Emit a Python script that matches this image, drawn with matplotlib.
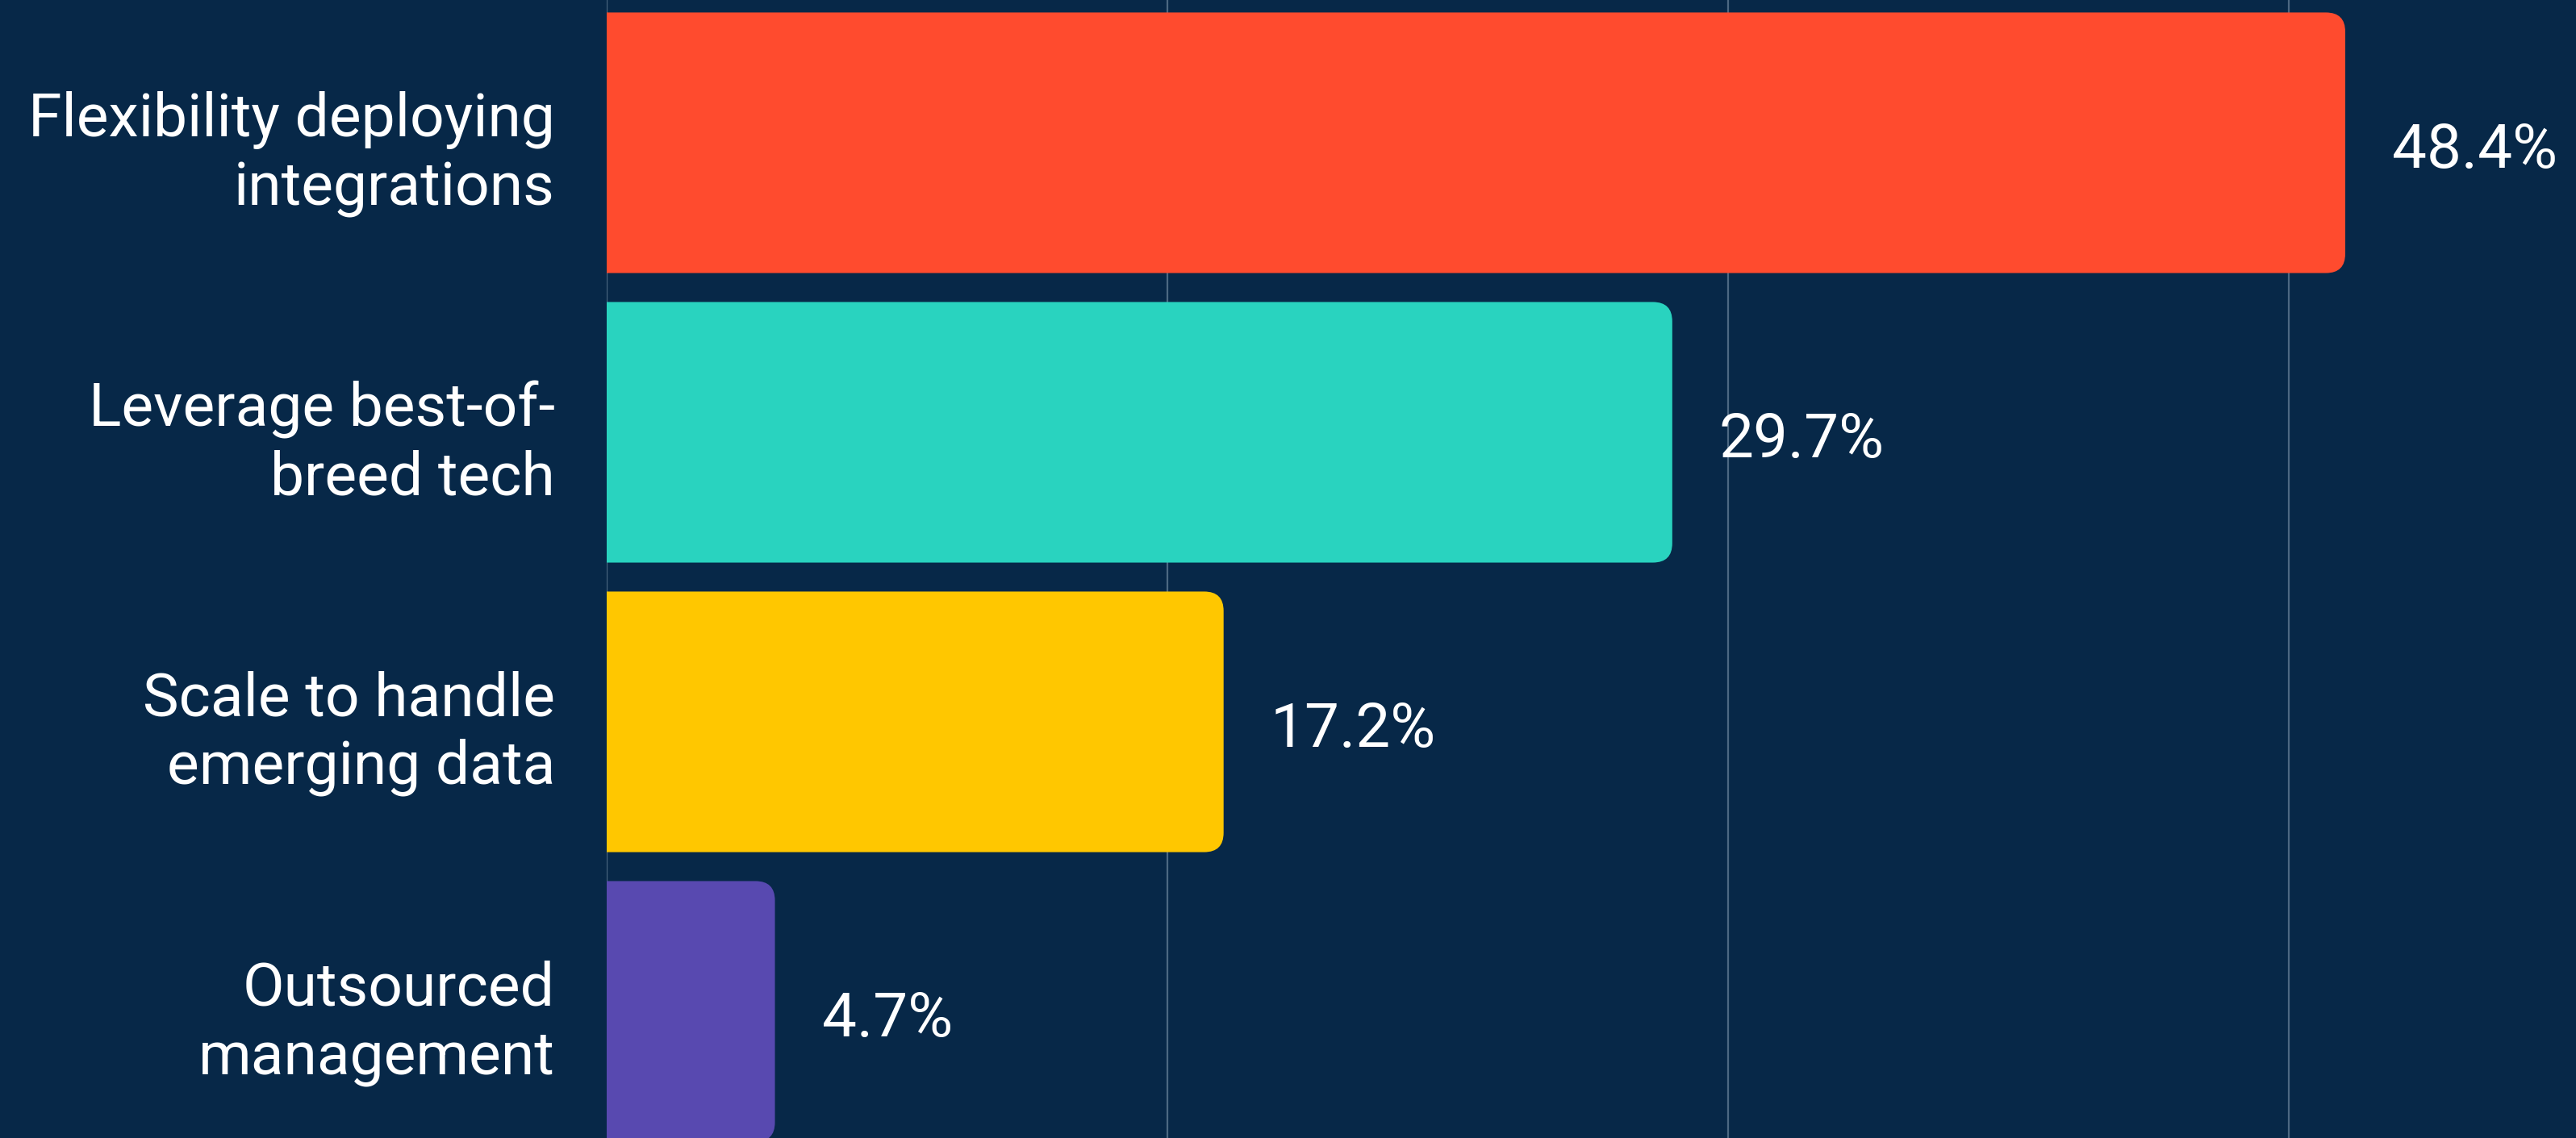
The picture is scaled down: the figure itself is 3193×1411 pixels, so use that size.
"""
Horizontal bar chart of reasons, with rounded bar ends on a dark background.
"""
import matplotlib.pyplot as plt
from matplotlib.patches import FancyBboxPatch

# answers counted out of 64 respondents
categories = ['Flexibility deploying\nintegrations',
              'Leverage best-of-\nbreed tech',
              'Scale to handle\nemerging data',
              'Outsourced\nmanagement']
counts = [31, 19, 11, 3]
pct_labels = ['48.4%', '29.7%', '17.2%', '4.7%']
bar_colors = ['#FF4B2E', '#29D3BF', '#FFC700', '#5849B0']
grid_ticks = [0, 10, 20, 30]

BG = '#072848'
W, H = 3193, 1411

plt.rcParams['font.family'] = ['Roboto', 'DejaVu Sans']

fig = plt.figure(figsize=(W / 100, H / 100), dpi=100, facecolor=BG)
ax = fig.add_axes([752 / W, 0, 1 - 752 / W, 1])
ax.set_facecolor(BG)

px_per_x = 2155 / 31.0
px_per_y = 359.0
ax.set_xlim(0, (W - 752) / px_per_x)
ax.set_ylim((H - 177) / px_per_y, -177 / px_per_y)

for t in grid_ticks:
    ax.axvline(t, color='#4C6882', linewidth=1.6, zorder=0)

height = 0.9
r_x = 24 / px_per_x
aspect = px_per_x / px_per_y
for i, (n, col, lab) in enumerate(zip(counts, bar_colors, pct_labels)):
    box = FancyBboxPatch((-1, i - height / 2), n + 1, height,
                         boxstyle='round,pad=0,rounding_size={}'.format(r_x),
                         mutation_aspect=aspect, facecolor=col,
                         edgecolor='none', zorder=2)
    ax.add_patch(box)
    ax.text(n + 58 / px_per_x, i + 0.03, lab, color='white', fontsize=55,
            fontweight='normal', va='center', ha='left')

ax.set_yticks(range(len(categories)))
ax.set_yticklabels(categories, color='white', fontsize=54,
                   fontweight='normal', linespacing=1.24)
ax.tick_params(axis='y', length=0, pad=64 * 0.72)
ax.set_xticks([])
for s in ax.spines.values():
    s.set_visible(False)

fig.savefig('out.png', dpi=100, facecolor=BG)
